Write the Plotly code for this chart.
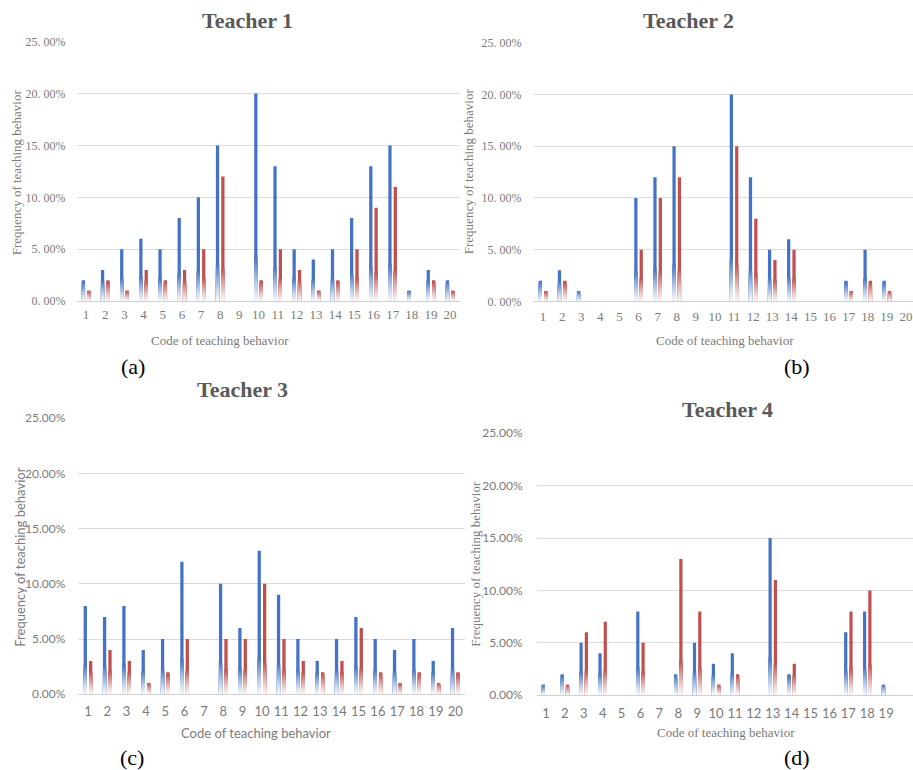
import plotly.graph_objects as go

W, H = 913, 770
# the page is photographed with the figure drawn 754 px tall, 8 px from the top
Y_OFF, Y_SPAN = 8.0, 754.0

codes = list(range(1, 21))
t1_blue = [2, 3, 5, 6, 5, 8, 10, 15, 0, 20, 13, 5, 4, 5, 8, 13, 15, 1, 3, 2]
t1_red = [1, 2, 1, 3, 2, 3, 5, 12, 0, 2, 5, 3, 1, 2, 5, 9, 11, 0, 2, 1]
t2_blue = [2, 3, 1, 0, 0, 10, 12, 15, 0, 0, 20, 12, 5, 6, 0, 0, 2, 5, 2, 0]
t2_red = [1, 2, 0, 0, 0, 5, 10, 12, 0, 0, 15, 8, 4, 5, 0, 0, 1, 2, 1, 0]
t3_blue = [8, 7, 8, 4, 5, 12, 0, 10, 6, 13, 9, 5, 3, 5, 7, 5, 4, 5, 3, 6]
t3_red = [3, 4, 3, 1, 2, 5, 0, 5, 5, 10, 5, 3, 2, 3, 6, 2, 1, 2, 1, 2]
t4_blue = [1, 2, 5, 4, 0, 8, 0, 2, 5, 3, 4, 0, 15, 2, 0, 0, 6, 8, 1, 0]
t4_red = [0, 1, 6, 7, 0, 5, 0, 13, 8, 1, 2, 0, 11, 3, 0, 0, 8, 10, 0, 0]

y_tickvals = [0, 5, 10, 15, 20, 25]
y_ticktext_spaced = ["0. 00%", "5. 00%", "10. 00%", "15. 00%", "20. 00%", "25. 00%"]
y_ticktext_plain = ["0.00%", "5.00%", "10.00%", "15.00%", "20.00%", "25.00%"]

titles = ["Teacher 1", "Teacher 2", "Teacher 3", "Teacher 4"]
panel_labels = ["(a)", "(b)", "(c)", "(d)"]
x_title = "Code of teaching behavior"
y_title = "Frequency of teaching behavior"

BLUE = (68, 114, 196)
RED = (192, 80, 77)
SERIF = "Liberation Serif"
SANS = "Lato"

# pixel geometry of each panel
panels = [
    dict(blue=t1_blue, red=t1_red, x0=76.5, x1=459.7, top=41.7, bot=300.7, step=19.16,
         ytext=y_ticktext_spaced, tickfont=SERIF, ytfont=SERIF, xtfont=SERIF,
         title_xy=(247.5, 20), ytitle_xy=(16, 172), xtitle_xy=(219.5, 340), lab_xy=(132.5, 366),
         ystand=10, xstand=1),
    dict(blue=t2_blue, red=t2_red, x0=533.5, x1=913, top=42.7, bot=301, step=19.1,
         ytext=y_ticktext_spaced, tickfont=SERIF, ytfont=SERIF, xtfont=SERIF,
         title_xy=(688, 20), ytitle_xy=(468, 171), xtitle_xy=(724.5, 340), lab_xy=(797, 366),
         ystand=11, xstand=3),
    dict(blue=t3_blue, red=t3_red, x0=78.3, x1=465, top=417.7, bot=693.3, step=19.33,
         ytext=y_ticktext_plain, tickfont=SANS, ytfont=SANS, xtfont=SANS,
         title_xy=(242, 389), ytitle_xy=(20, 557), xtitle_xy=(256, 732), lab_xy=(132, 757),
         ystand=12, xstand=5),
    dict(blue=t4_blue, red=t4_red, x0=536.5, x1=913, top=432.7, bot=694.3, step=18.9,
         ytext=y_ticktext_plain, tickfont=SANS, ytfont=SERIF, xtfont=SERIF,
         title_xy=(727.5, 409), ytitle_xy=(476, 563), xtitle_xy=(725.5, 732), lab_xy=(797, 757),
         ystand=13, xstand=6),
]

K = 16          # gradient layers
BAR_W = 0.17
OFFSETS = {"blue": -0.225, "red": 0.055}


def mix(c, t):
    r = [round(255 + (ci - 255) * t) for ci in c]
    return f"rgb({r[0]},{r[1]},{r[2]})"


def fade_height(v):
    # height of the lower part of a bar that fades to white
    return min(v, 1.6 + 0.135 * v)


def fy(py):
    return 1 - (py - Y_OFF) / Y_SPAN


fig = go.Figure()
annotations = []
layout = {}

for idx, p in enumerate(panels):
    n = "" if idx == 0 else str(idx + 1)
    xa, ya = "x" + n, "y" + n
    for key, col in (("blue", BLUE), ("red", RED)):
        vals = p[key]
        fig.add_trace(go.Bar(x=codes, y=vals, xaxis=xa, yaxis=ya, width=BAR_W,
                             offset=OFFSETS[key], marker=dict(color=mix(col, 1.0), line=dict(width=0)),
                             showlegend=False, hoverinfo="skip"))
        # overlapping layers from the baseline: each later layer is shorter and lighter
        for j in range(K):
            frac = 1 - j / K
            t = 1 - (j + 0.5) / K
            seg = [fade_height(v) * frac for v in vals]
            fig.add_trace(go.Bar(x=codes, y=seg, xaxis=xa, yaxis=ya, width=BAR_W,
                                 offset=OFFSETS[key],
                                 marker=dict(color=mix(col, 0.06 + 0.94 * t ** 1.2), line=dict(width=0)),
                                 showlegend=False, hoverinfo="skip"))
    ncat = (p["x1"] - p["x0"]) / p["step"]
    layout["xaxis" + n] = dict(
        domain=[p["x0"] / W, min(p["x1"] / W, 1.0)], anchor=ya, range=[0.5, 0.5 + ncat],
        tickmode="array", tickvals=codes, ticktext=[str(c) for c in codes],
        showgrid=False, zeroline=False, showline=True, linecolor="#d0d0d0", linewidth=1,
        ticks="", ticklabelstandoff=p["xstand"],
        tickfont=dict(family=p["tickfont"], size=13, color="#7a7a7a"), fixedrange=True)
    layout["yaxis" + n] = dict(
        domain=[fy(p["bot"]), fy(p["top"])], anchor=xa, range=[0, 25],
        tickmode="array", tickvals=y_tickvals, ticktext=p["ytext"],
        showgrid=True, gridcolor="#dcdcdc", gridwidth=1, zeroline=False, showline=False,
        ticks="", ticklabelstandoff=p["ystand"],
        tickfont=dict(family=p["tickfont"], size=12, color="#7a7a7a"), fixedrange=True)

    def pa(xy):
        return xy[0] / W, fy(xy[1])

    x, y = pa(p["title_xy"])
    annotations.append(dict(text="<b>" + titles[idx] + "</b>", x=x, y=y, xref="paper", yref="paper",
                            xanchor="center", yanchor="middle", showarrow=False,
                            font=dict(family=SERIF, size=22, color="#595959")))
    x, y = pa(p["ytitle_xy"])
    annotations.append(dict(text=y_title, x=x, y=y, xref="paper", yref="paper", textangle=-90,
                            xanchor="center", yanchor="middle", showarrow=False,
                            font=dict(family=p["ytfont"], size=13, color="#7a7a7a")))
    x, y = pa(p["xtitle_xy"])
    annotations.append(dict(text=x_title, x=x, y=y, xref="paper", yref="paper",
                            xanchor="center", yanchor="middle", showarrow=False,
                            font=dict(family=p["xtfont"], size=13, color="#7a7a7a")))
    x, y = pa(p["lab_xy"])
    annotations.append(dict(text=panel_labels[idx], x=x, y=y, xref="paper", yref="paper",
                            xanchor="center", yanchor="middle", showarrow=False,
                            font=dict(family=SERIF, size=22, color="#000000")))

fig.update_layout(
    width=W, height=H, margin=dict(l=0, r=0, t=0, b=0),
    paper_bgcolor="white", plot_bgcolor="white",
    barmode="overlay", showlegend=False, annotations=annotations, **layout)

fig.write_html("out.html", config={"displayModeBar": False},
               post_script="document.body.style.margin='0';document.body.style.overflow='hidden';")
